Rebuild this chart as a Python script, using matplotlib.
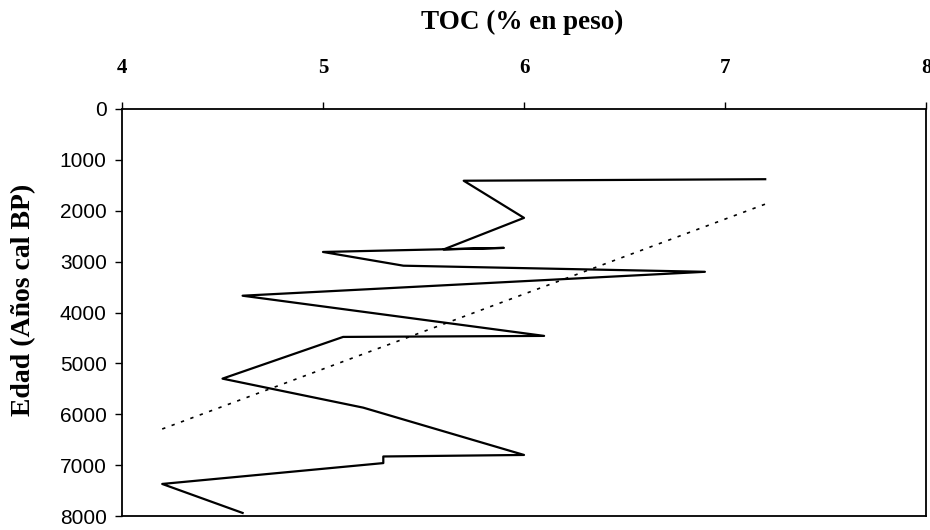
import numpy as np
import matplotlib.pyplot as plt

# Perfil de TOC frente a la edad (en orden de profundidad)
toc = [7.2, 5.7, 6.0, 5.6, 5.9, 5.0, 5.4, 6.9, 4.6, 6.1, 5.1, 4.5, 5.2, 6.0, 5.3, 5.3, 4.2, 4.6]
edad = [1380, 1410, 2140, 2760, 2730, 2810, 3080, 3200, 3670, 4460, 4480, 5300, 5870, 6800, 6830, 6960, 7370, 7940]

# Extremos de la línea de tendencia
tend_toc = [4.2, 7.2]
tend_edad = [6290, 1870]

fig = plt.figure(figsize=(9.3, 5.3), dpi=100)
ax = fig.add_axes([122 / 930, 1 - 516 / 530, 804 / 930, 407 / 530])

ax.plot(toc, edad, color='black', linewidth=1.6)
ax.plot(tend_toc, tend_edad, color='black', linewidth=1.2, linestyle=(0, (2, 4)))

ax.set_xlim(4, 8)
ax.set_ylim(8000, 0)
ax.set_xticks([4, 5, 6, 7, 8])
ax.set_yticks(np.arange(0, 8001, 1000))
ax.xaxis.tick_top()
ax.tick_params(axis='x', direction='out', length=5, width=1, pad=17)
ax.tick_params(axis='y', direction='out', length=5, width=1, pad=6)
ax.tick_params(top=True, bottom=False)

for lab in ax.get_xticklabels():
    lab.set_fontfamily('Liberation Serif')
    lab.set_fontweight('bold')
    lab.set_fontsize(15)
for lab in ax.get_yticklabels():
    lab.set_fontfamily('Liberation Sans')
    lab.set_fontsize(15)

for s in ax.spines.values():
    s.set_linewidth(1.3)

fig.text(522 / 930, 1 - 22 / 530, 'TOC (% en peso)', ha='center', va='center',
         family='Liberation Serif', fontsize=19.5, fontweight='bold')
fig.text(24 / 930, 1 - 300 / 530, 'Edad (Años cal BP)', ha='center', va='center',
         rotation=90, family='Liberation Serif', fontsize=20, fontweight='bold')

fig.savefig('out.png', dpi=100)
